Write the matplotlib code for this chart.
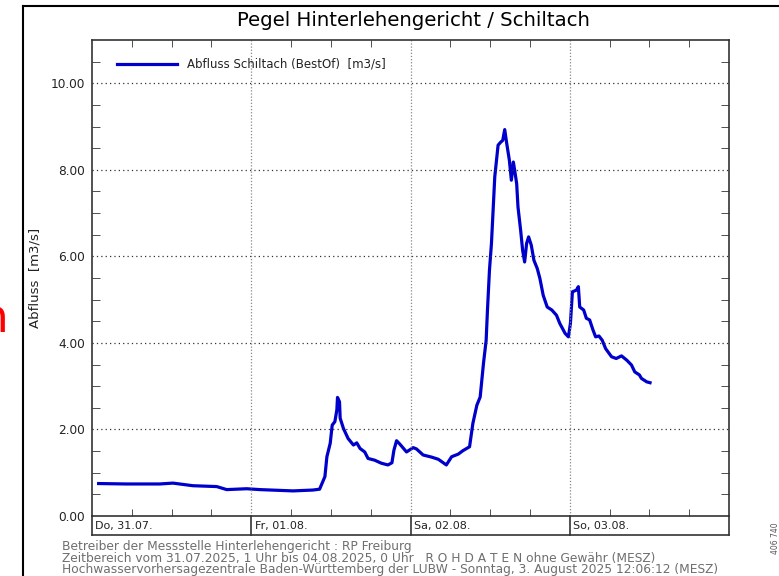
import numpy as np
import matplotlib
matplotlib.use("Agg")
import matplotlib.pyplot as plt
from matplotlib.lines import Line2D
from matplotlib.transforms import blended_transform_factory

# hours since Do, 31.07.2025 00:00 (MESZ) and discharge in m3/s
hours = [1.0, 5.2, 10.2, 12.2, 15.2, 18.8, 20.3, 23.3, 25.3, 30.3, 33.3, 34.3,
         35.1, 35.4, 35.9, 36.2, 36.6, 36.9, 37.0, 37.3, 37.4, 37.9, 38.6,
         39.4, 39.9, 40.4, 41.1, 41.6, 42.6, 43.6, 44.6, 45.2, 45.5, 45.9,
         46.4, 47.4, 48.4, 48.9, 49.9, 51.2, 52.2, 53.4, 54.2, 55.2, 55.9,
         56.9, 57.4, 58.0, 58.5, 59.0, 59.4, 59.6, 59.9, 60.2, 60.5, 60.7,
         61.2, 61.6, 61.9, 62.2, 62.5, 62.9, 63.2, 63.5, 63.7, 64.0, 64.2,
         64.6, 64.9, 65.2, 65.5, 65.8, 66.2, 66.6, 67.1, 67.5, 68.0, 68.6,
         69.3, 70.0, 70.5, 71.3, 71.8, 72.1, 72.4, 73.0, 73.3, 73.5, 74.1,
         74.5, 75.0, 75.5, 75.9, 76.4, 76.9, 77.4, 78.3, 79.0, 79.8, 80.6,
         81.3, 81.8, 82.5, 82.8, 83.6, 84.1]
flow = [0.75, 0.74, 0.74, 0.76, 0.70, 0.68, 0.61, 0.63, 0.61, 0.58, 0.60, 0.62,
        0.91, 1.37, 1.68, 2.10, 2.18, 2.45, 2.74, 2.64, 2.26, 2.02, 1.79,
        1.64, 1.69, 1.56, 1.48, 1.33, 1.29, 1.22, 1.18, 1.23, 1.52, 1.74,
        1.66, 1.48, 1.58, 1.55, 1.41, 1.36, 1.31, 1.18, 1.37, 1.43, 1.51,
        1.60, 2.14, 2.56, 2.75, 3.53, 4.06, 4.76, 5.68, 6.30, 7.22, 7.84,
        8.57, 8.64, 8.68, 8.93, 8.61, 8.22, 7.76, 8.18, 7.99, 7.68, 7.14,
        6.60, 6.14, 5.87, 6.30, 6.45, 6.26, 5.91, 5.72, 5.49, 5.10, 4.83,
        4.76, 4.64, 4.45, 4.22, 4.14, 4.45, 5.18, 5.22, 5.30, 4.83, 4.76,
        4.57, 4.53, 4.30, 4.14, 4.16, 4.06, 3.87, 3.68, 3.64, 3.70, 3.60,
        3.49, 3.33, 3.26, 3.18, 3.10, 3.08]

day_labels = ["Do, 31.07.", "Fr, 01.08.", "Sa, 02.08.", "So, 03.08."]
y_major = [0, 2, 4, 6, 8, 10]

title = "Pegel Hinterlehengericht / Schiltach"
legend_text = "Abfluss Schiltach (BestOf)  [m3/s]"
footer = [
    "Betreiber der Messstelle Hinterlehengericht : RP Freiburg",
    "Zeitbereich vom 31.07.2025, 1 Uhr bis 04.08.2025, 0 Uhr   R O H D A T E N ohne Gewähr (MESZ)",
    "Hochwasservorhersagezentrale Baden-Württemberg der LUBW - Sonntag, 3. August 2025 12:06:12 (MESZ)",
]

W, H = 779, 576
fig = plt.figure(figsize=(W / 100, H / 100), dpi=100)
ax = fig.add_axes([92 / W, 60 / H, 637 / W, 476 / H])

ax.plot(hours, flow, color="#0000cc", lw=2.3, solid_joinstyle="round")
ax.set_xlim(0, 96)
ax.set_ylim(0, 11)

# ticks
ax.set_yticks(y_major)
ax.set_yticklabels([f"{v:.2f}" for v in y_major], fontsize=8.7, color="#222222")
ax.set_yticks(np.arange(0.5, 11, 0.5), minor=True)
ax.tick_params(axis="y", which="major", length=0, pad=5)
ax.tick_params(axis="y", which="minor", direction="in", length=6, left=True,
               right=True, color="#333333")
ax.set_xticks([])
ax.set_xticks([h for h in range(6, 96, 6) if h % 24], minor=True)
ax.tick_params(axis="x", which="minor", direction="in", length=5, top=True,
               bottom=True, color="#333333")

for v in y_major[1:]:
    ax.axhline(v, color="#333333", lw=0.9, ls=(0, (1, 2.5)))
for d in range(1, 4):
    ax.axvline(d * 24, color="#888888", lw=0.9, ls=(0, (1, 1.5)))

for s in ax.spines.values():
    s.set_color("#333333")
    s.set_linewidth(1.2)

ax.set_ylabel("Abfluss  [m3/s]", fontsize=9.5, color="#222222")
ax.yaxis.set_label_coords(-0.080, 0.5)

# date box under the axis
tr = blended_transform_factory(ax.transData, ax.transAxes)
box_h = 19 / 476
for d in range(5):
    ax.plot([d * 24, d * 24], [0, -box_h], color="#333333", lw=1.2,
            transform=tr, clip_on=False)
ax.plot([0, 96], [-box_h, -box_h], color="#333333", lw=1.2, transform=tr,
        clip_on=False)
for d, lab in enumerate(day_labels):
    ax.text(d * 24 + 0.5, -box_h / 2, lab, transform=tr, fontsize=8,
            va="center", ha="left", color="#222222")

# legend
ax.add_line(Line2D([0.039, 0.1334], [0.9496, 0.9496], color="#0000cc",
                   lw=2.3, transform=ax.transAxes))
ax.text(0.1491, 0.9496, legend_text, transform=ax.transAxes, fontsize=8.5,
        va="center", ha="left", color="#222222")

# outer frame and texts
fig.add_artist(Line2D([23 / W, 1], [1 - 6 / H] * 2, color="black", lw=1.5))
fig.add_artist(Line2D([23 / W, 23 / W], [0, 1 - 6 / H], color="black", lw=1.5))
fig.text(413 / W, 1 - 21 / H, title, fontsize=14.2, ha="center", va="center")
for i, line in enumerate(footer):
    fig.text(62 / W, 1 - (546.5 + 11.7 * i) / H, line, fontsize=8.8, ha="left",
             va="center", color="#6e6e6e")
fig.text(9 / W, 1 - 320 / H, "n", fontsize=34, color="red", ha="right",
         va="center")
fig.text(776 / W, 1 - 538 / H, "406 740", fontsize=5.5, rotation=90,
         color="#555555", ha="center", va="center")

fig.savefig("out.png", dpi=100)
